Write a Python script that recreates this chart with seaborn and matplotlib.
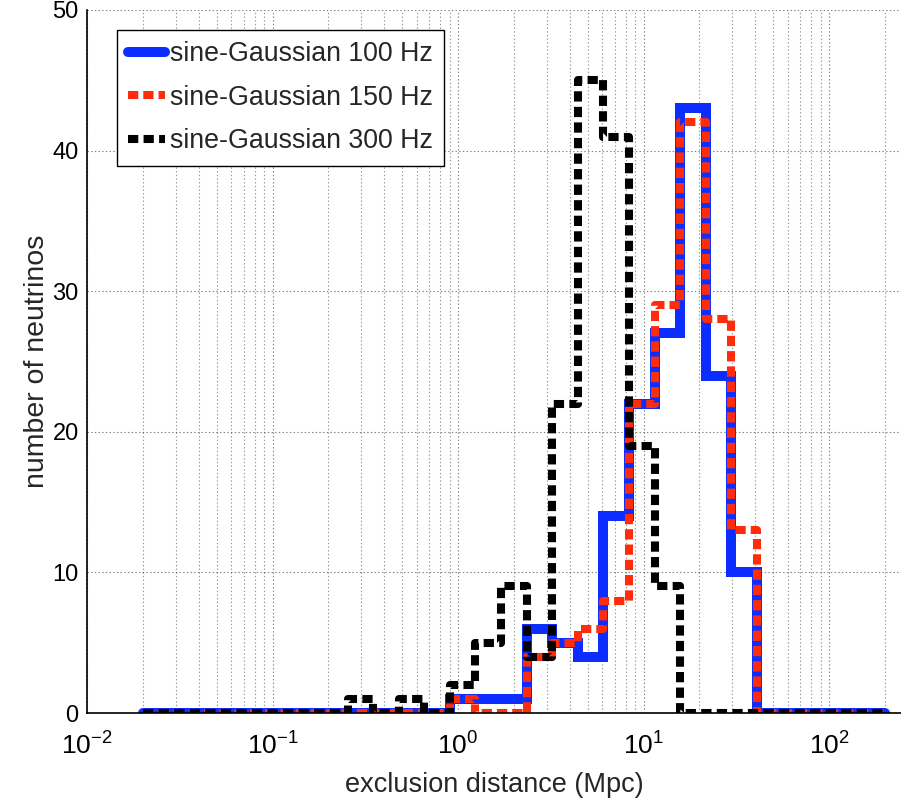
import numpy as np
import pandas as pd
import matplotlib
matplotlib.use("Agg")
import matplotlib.pyplot as plt
import seaborn as sns

# ---------------- data ----------------
BIN_LO = 0.02      # Mpc, left edge of first bin
BIN_HI = 200.0     # Mpc, right edge of last bin
N_BINS = 29
bin_edges = np.logspace(np.log10(BIN_LO), np.log10(BIN_HI), N_BINS + 1)

series_labels = ["sine-Gaussian 100 Hz", "sine-Gaussian 150 Hz", "sine-Gaussian 300 Hz"]

counts_100 = [0, 0, 0, 0, 0, 0, 0, 0, 0, 0, 0, 0, 1, 1, 1, 6, 5, 4, 14, 22, 27, 43, 24, 10, 0, 0, 0, 0, 0]
counts_150 = [0, 0, 0, 0, 0, 0, 0, 0, 0, 0, 0, 0, 1, 0, 0, 4, 5, 6, 8, 22, 29, 42, 28, 13, 0, 0, 0, 0, 0]
counts_300 = [0, 0, 0, 0, 0, 0, 0, 0, 1, 0, 1, 0, 2, 5, 9, 4, 22, 45, 41, 19, 9, 0, 0, 0, 0, 0, 0, 0, 0]

y_ticks = [0, 10, 20, 30, 40, 50]
x_label = "exclusion distance (Mpc)"
y_label = "number of neutrinos"

# ---------------- style ----------------
sns.set_theme(style="white")
plt.rcParams["font.family"] = ["Liberation Sans", "DejaVu Sans"]
plt.rcParams["mathtext.default"] = "regular"
plt.rcParams["axes.unicode_minus"] = False
plt.rcParams["lines.scale_dashes"] = False

W, H = 901, 802
fig = plt.figure(figsize=(W / 100, H / 100), dpi=100)
ax_l, ax_r, ax_t, ax_b = 87, 901, 10, 713
ax = fig.add_axes([ax_l / W, (H - ax_b) / H, (ax_r - ax_l) / W, (ax_b - ax_t) / H])

ax.set_xscale("log")


def stair_frame(counts, label):
    return pd.DataFrame({
        "x": bin_edges,
        "y": list(counts) + [counts[-1]],
        "series": label,
    })


styles = [
    (counts_100, "#0b2dff", 7.2, None),
    (counts_150, "#ff2c0c", 5.8, (7.4, 3.6)),
    (counts_300, "#000000", 5.8, (7.4, 3.8)),
]

for (cnts, col, lw, dash), lab in zip(styles, series_labels):
    df = stair_frame(cnts, lab)
    sns.lineplot(data=df, x="x", y="y", ax=ax, estimator=None, sort=True,
                 drawstyle="steps-post", color=col, linewidth=lw, label=lab)
    line = ax.lines[-1]
    if dash is not None:
        line.set_dashes(dash)
        line.set_dash_capstyle("butt")
    else:
        line.set_solid_joinstyle("miter")

ax.set_xlim(0.01, 10 ** 2.388)
ax.set_ylim(0, 50)
ax.set_yticks(y_ticks)

# grid
ax.grid(True, which="major", axis="both", linestyle=":", color="k", linewidth=0.8, alpha=0.55)
ax.grid(True, which="minor", axis="x", linestyle=":", color="k", linewidth=0.8, alpha=0.45)
ax.set_axisbelow(True)

for s in ["top", "right"]:
    ax.spines[s].set_visible(False)
for s in ["left", "bottom"]:
    ax.spines[s].set_color("black")
    ax.spines[s].set_linewidth(1.2)

ax.tick_params(axis="both", which="major", direction="in", length=6, width=0.8, colors="black")
ax.tick_params(axis="x", which="minor", direction="in", length=3, width=0.6, colors="black")
ax.tick_params(axis="y", labelsize=17, pad=6)
ax.tick_params(axis="x", labelsize=19, pad=14)

ax.set_xlabel(x_label, fontsize=19.5, labelpad=9)
ax.set_ylabel(y_label, fontsize=20.5, labelpad=2)

leg = ax.legend(loc="upper left", bbox_to_anchor=(0.037, 0.972), borderaxespad=0,
                fontsize=19.3, frameon=True, fancybox=False, framealpha=1,
                edgecolor="black", handlelength=1.35, handletextpad=0.2,
                borderpad=0.42, labelspacing=0.66)
leg.get_frame().set_linewidth(1.0)

fig.savefig("out.png", dpi=100)
